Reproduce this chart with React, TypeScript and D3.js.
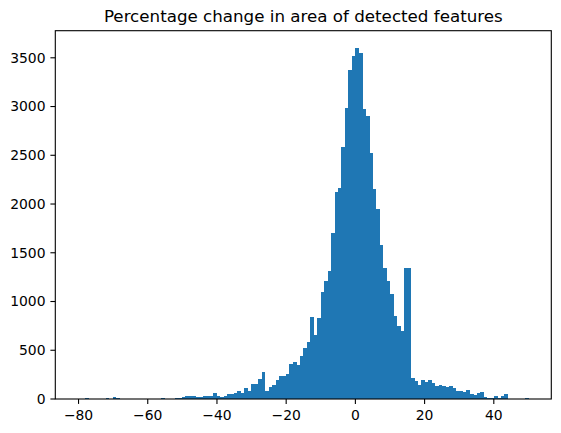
import React from "react";
import * as d3 from "d3";

// histogram bins (130 equal-width bins)
const binStart = -80.2;
const binWidth = 1.0023;
const counts = [
  0, 0, 10, 0, 0, 0, 0, 0, 10, 0,
  20, 10, 0, 0, 0, 0, 0, 0, 0, 0,
  0, 0, 0, 0, 10, 0, 0, 0, 10, 10,
  20, 30, 30, 30, 20, 20, 30, 30, 30, 60,
  30, 20, 30, 50, 50, 60, 80, 60, 110, 80,
  150, 150, 205, 275, 80, 125, 145, 195, 235, 235,
  255, 358, 378, 347, 440, 521, 583, 838, 654, 828,
  1094, 1206, 1308, 1707, 2126, 2167, 2586, 2985, 3373, 3516,
  3598, 3547, 2974, 2903, 2525, 2157, 1952, 1584, 1339, 1206,
  1073, 848, 746, 695, 1339, 1339, 215, 184, 143, 194,
  174, 194, 164, 133, 143, 133, 123, 133, 112, 82,
  82, 72, 92, 51, 41, 61, 72, 20, 10, 10,
  31, 10, 31, 51, 0, 0, 0, 0, 0, 10,
];
const xTicks = [-80, -60, -40, -20, 0, 20, 40];
const yTicks = [0, 500, 1000, 1500, 2000, 2500, 3000, 3500];
const title = "Percentage change in area of detected features";

const W = 561;
const H = 433;
const margin = { left: 55.3, right: 9.7, top: 30.7, bottom: 34 };
const font = "DejaVu Sans, sans-serif";

export default function App() {
  const innerW = W - margin.left - margin.right;
  const innerH = H - margin.top - margin.bottom;

  const bins = counts.map((c, i) => ({
    x0: binStart + i * binWidth,
    x1: binStart + (i + 1) * binWidth,
    count: c,
  }));
  const lo = bins[0].x0;
  const hi = bins[bins.length - 1].x1;
  const span = hi - lo;

  const x = d3
    .scaleLinear()
    .domain([lo - 0.05 * span, hi + 0.05 * span])
    .range([margin.left, margin.left + innerW]);
  const yMax = d3.max(counts) as number;
  const y = d3
    .scaleLinear()
    .domain([0, yMax * 1.05])
    .range([margin.top + innerH, margin.top]);

  const bottom = margin.top + innerH;

  return (
    <svg
      width={W}
      height={H}
      style={{ position: "absolute", left: 0, top: 0, background: "#fff" }}
      fontFamily={font}
    >
      <g shapeRendering="crispEdges">
        {bins
          .filter((b) => b.count > 0)
          .map((b, i) => (
            <rect
              key={i}
              x={x(b.x0)}
              y={y(b.count)}
              width={x(b.x1) - x(b.x0) + 0.3}
              height={bottom - y(b.count)}
              fill="#1f77b4"
            />
          ))}
      </g>

      {/* spines */}
      <rect
        x={margin.left}
        y={margin.top}
        width={innerW}
        height={innerH}
        fill="none"
        stroke="#000"
        strokeWidth={1.1}
      />

      {/* x axis */}
      <g>
        {xTicks.map((t) => (
          <g key={t} transform={`translate(${x(t)},${bottom})`}>
            <line y2={4.9} stroke="#000" strokeWidth={1.1} />
            <text
              y={9.8}
              dy="0.8em"
              textAnchor="middle"
              fontSize={13.9}
              fill="#000"
            >
              {t < 0 ? `\u2212${Math.abs(t)}` : t}
            </text>
          </g>
        ))}
      </g>

      {/* y axis */}
      <g>
        {yTicks.map((t) => (
          <g key={t} transform={`translate(${margin.left},${y(t)})`}>
            <line x2={-4.9} stroke="#000" strokeWidth={1.1} />
            <text
              x={-9.8}
              dy="0.35em"
              textAnchor="end"
              fontSize={13.9}
              fill="#000"
            >
              {t}
            </text>
          </g>
        ))}
      </g>

      <text
        x={margin.left + innerW / 2}
        y={margin.top - 8.3}
        textAnchor="middle"
        fontSize={16.7}
        fill="#000"
      >
        {title}
      </text>
    </svg>
  );
}
